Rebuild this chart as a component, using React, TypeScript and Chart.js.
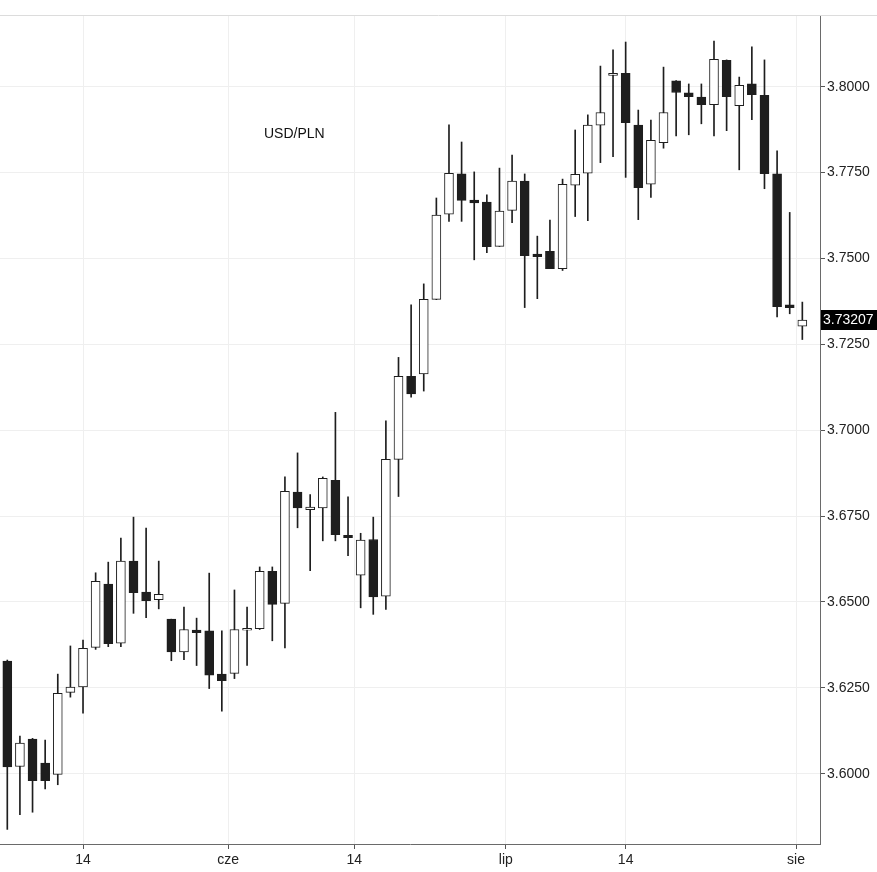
import React, { useEffect, useRef } from 'react';
import { Chart, registerables } from 'chart.js';

Chart.register(...registerables);

const TITLE = 'USD/PLN';

const OPEN = [
  3.6328, 3.6021, 3.6101, 3.6031, 3.5998, 3.6237, 3.6253, 3.6368, 3.6552, 3.6380,
  3.6619, 3.6529, 3.6507, 3.6450, 3.6355, 3.6418, 3.6416, 3.6290, 3.6292, 3.6418,
  3.6422, 3.6589, 3.6496, 3.6820, 3.6769, 3.6774, 3.6854, 3.6694, 3.6578, 3.6682,
  3.6517, 3.6915, 3.7157, 3.7164, 3.7381, 3.7629, 3.7746, 3.7670, 3.7664, 3.7535,
  3.7640, 3.7725, 3.7513, 3.7521, 3.7470, 3.7713, 3.7748, 3.7888, 3.8033, 3.8039,
  3.7888, 3.7716, 3.7837, 3.8017, 3.7982, 3.7970, 3.7948, 3.8077, 3.7945, 3.8008,
  3.7975, 3.7746, 3.7365, 3.7303,
];
const HIGH = [
  3.6331, 3.6110, 3.6103, 3.6098, 3.6290, 3.6372, 3.6389, 3.6585, 3.6616, 3.6686,
  3.6747, 3.6715, 3.6619, 3.6450, 3.6485, 3.6453, 3.6584, 3.6416, 3.6535, 3.6485,
  3.6602, 3.6602, 3.6864, 3.6934, 3.6813, 3.6864, 3.7052, 3.6806, 3.6700, 3.6747,
  3.7027, 3.7212, 3.7365, 3.7426, 3.7676, 3.7889, 3.7839, 3.7752, 3.7685, 3.7763,
  3.7801, 3.7746, 3.7565, 3.7612, 3.7731, 3.7874, 3.7918, 3.8060, 3.8107, 3.8130,
  3.7932, 3.7903, 3.8057, 3.8018, 3.8008, 3.8008, 3.8133, 3.8078, 3.8028, 3.8116,
  3.8078, 3.7813, 3.7634, 3.7373,
];
const LOW = [
  3.5838, 3.5881, 3.5888, 3.5956, 3.5968, 3.6223, 3.6176, 3.6362, 3.6370, 3.6370,
  3.6467, 3.6454, 3.6480, 3.6329, 3.6332, 3.6315, 3.6248, 3.6182, 3.6277, 3.6315,
  3.6420, 3.6387, 3.6366, 3.6716, 3.6591, 3.6678, 3.6678, 3.6635, 3.6483, 3.6464,
  3.6478, 3.6807, 3.7096, 3.7114, 3.7380, 3.7608, 3.7608, 3.7496, 3.7517, 3.7535,
  3.7604, 3.7357, 3.7383, 3.7470, 3.7465, 3.7622, 3.7610, 3.7779, 3.7796, 3.7736,
  3.7613, 3.7678, 3.7821, 3.7857, 3.7860, 3.7892, 3.7857, 3.7872, 3.7758, 3.7904,
  3.7703, 3.7330, 3.7339, 3.7264,
];
const CLOSE = [
  3.6020, 3.6089, 3.5980, 3.5980, 3.6234, 3.6252, 3.6365, 3.6560, 3.6379, 3.6619,
  3.6527, 3.6504, 3.6522, 3.6355, 3.6420, 3.6411, 3.6287, 3.6271, 3.6420, 3.6423,
  3.6589, 3.6493, 3.6822, 3.6774, 3.6776, 3.6860, 3.6696, 3.6687, 3.6680, 3.6515,
  3.6915, 3.7157, 3.7106, 3.7381, 3.7626, 3.7748, 3.7669, 3.7662, 3.7534, 3.7638,
  3.7725, 3.7508, 3.7505, 3.7470, 3.7716, 3.7745, 3.7888, 3.7925, 3.8039, 3.7895,
  3.7706, 3.7844, 3.7925, 3.7983, 3.7971, 3.7948, 3.8080, 3.7971, 3.8004, 3.7977,
  3.7747, 3.7360, 3.7357, 3.73207,
];

const X_TICK_POS = [6, 17.5, 27.5, 39.5, 49, 62.5];
const X_TICK_LABELS = ['14', 'cze', '14', 'lip', '14', 'sie'];
const Y_TICKS = [3.6, 3.625, 3.65, 3.675, 3.7, 3.725, 3.75, 3.775, 3.8];
const X_MIN = -0.5785;
const X_MAX = 64.4;
const Y_MIN = 3.57955;
const Y_MAX = 3.82058;

const FONT = '"Liberation Sans", Arial, sans-serif';
const INK = '#1e1e1e';

export default function App() {
  const ref = useRef<HTMLCanvasElement>(null);

  useEffect(() => {
    if (!ref.current) return;
    const idx = OPEN.map((_, i) => i);
    const bodies = idx.map((i) => ({ x: i, y: [OPEN[i], CLOSE[i]] }));
    const wicks = idx.map((i) => ({ x: i, y: [LOW[i], HIGH[i]] }));
    const bodyFill = idx.map((i) => (CLOSE[i] >= OPEN[i] ? '#ffffff' : INK));
    const last = CLOSE[CLOSE.length - 1];

    const overlay = {
      id: 'overlay',
      afterDraw(chart: any) {
        const { ctx, chartArea, scales } = chart;
        ctx.save();
        ctx.strokeStyle = '#dcdcdc';
        ctx.lineWidth = 1;
        ctx.beginPath();
        ctx.moveTo(0, chartArea.top - 0.5);
        ctx.lineTo(chart.width, chartArea.top - 0.5);
        ctx.stroke();

        ctx.fillStyle = '#111111';
        ctx.font = `14px ${FONT}`;
        ctx.textBaseline = 'alphabetic';
        ctx.textAlign = 'left';
        ctx.fillText(TITLE, 264, 138);

        const y = scales.y.getPixelForValue(last);
        ctx.fillStyle = '#000000';
        ctx.fillRect(chartArea.right + 1, Math.round(y) - 10, chart.width - chartArea.right - 1, 20);
        ctx.fillStyle = '#ffffff';
        ctx.textBaseline = 'middle';
        ctx.fillText(last.toFixed(5), chartArea.right + 3, Math.round(y) + 0.5);
        ctx.restore();
      },
    };

    const chart = new Chart(ref.current, {
      type: 'bar',
      data: {
        datasets: [
          {
            label: 'body',
            data: bodies as any,
            backgroundColor: bodyFill,
            borderColor: INK,
            borderWidth: 1,
            borderSkipped: false,
            barThickness: 9,
            grouped: false,
            order: 0,
          } as any,
          {
            label: 'wick',
            data: wicks as any,
            backgroundColor: INK,
            borderWidth: 0,
            barThickness: 1,
            grouped: false,
            order: 1,
          } as any,
        ],
      },
      options: {
        animation: false,
        responsive: false,
        layout: { padding: { top: 16, left: 0, right: 0, bottom: 0 } },
        plugins: {
          legend: { display: false },
          tooltip: { enabled: false },
          title: { display: false },
        },
        scales: {
          x: {
            type: 'linear',
            min: X_MIN,
            max: X_MAX,
            offset: false,
            afterBuildTicks: (s: any) => {
              s.ticks = X_TICK_POS.map((v) => ({ value: v }));
            },
            afterFit: (s: any) => {
              s.height = 28;
            },
            ticks: {
              autoSkip: false,
              maxRotation: 0,
              minRotation: 0,
              padding: 3,
              color: '#222222',
              font: { family: FONT, size: 14 },
              callback: (_v: any, i: number) => X_TICK_LABELS[i],
            },
            grid: {
              offset: false,
              color: '#efefef',
              tickColor: '#555555',
              tickLength: 5,
              drawTicks: true,
            },
            border: { display: true, color: '#6a6a6a', width: 1 },
          } as any,
          y: {
            type: 'linear',
            position: 'right',
            min: Y_MIN,
            max: Y_MAX,
            beginAtZero: false,
            afterBuildTicks: (s: any) => {
              s.ticks = Y_TICKS.map((v) => ({ value: v }));
            },
            afterFit: (s: any) => {
              s.width = 57;
            },
            ticks: {
              padding: 2,
              color: '#222222',
              font: { family: FONT, size: 14 },
              callback: (v: any) => Number(v).toFixed(4),
            },
            grid: {
              color: '#efefef',
              tickColor: '#555555',
              tickLength: 5,
              drawTicks: true,
            },
            border: { display: true, color: '#6a6a6a', width: 1 },
          } as any,
        },
      },
      plugins: [overlay],
    });

    return () => chart.destroy();
  }, []);

  return (
    <div style={{ position: 'fixed', left: 0, top: 0, width: 877, height: 872, background: '#ffffff' }}>
      <canvas ref={ref} width={877} height={872} style={{ display: 'block', width: 877, height: 872 }} />
    </div>
  );
}
